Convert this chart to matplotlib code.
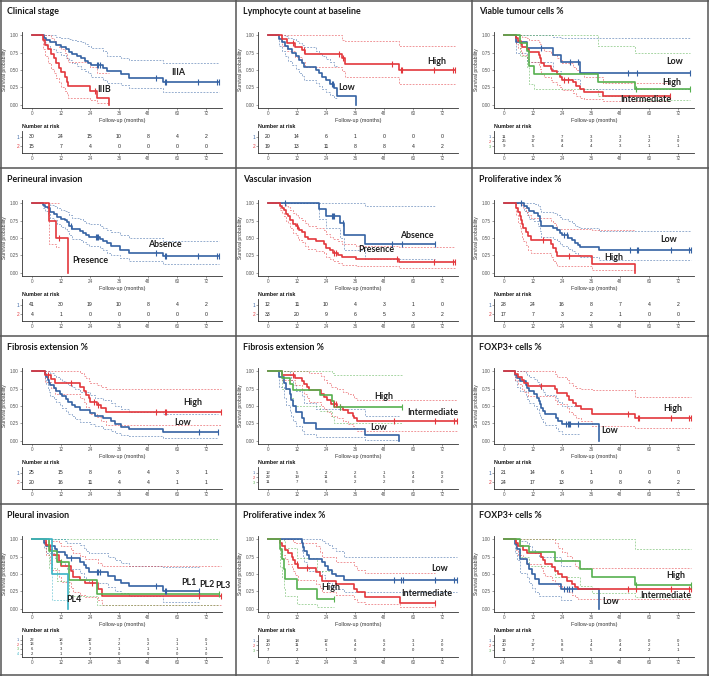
import numpy as np
import matplotlib.pyplot as plt
from matplotlib.lines import Line2D

plt.rcParams['font.family'] = ['Liberation Sans', 'DejaVu Sans']

nan = np.nan
BLUE, RED, GREEN, TEAL = '#3562a3', '#e3373c', '#56b04f', '#3bb3c6'
RISK_TIMES = [0, 12, 24, 36, 48, 60, 72]

# each step: (time, survival, lower CI, upper CI)
# --- Clinical stage
STAGE_IIIA = [(5, .967, .90, 1.0), (6, .933, .85, 1.0), (7.5, .90, .80, 1.0), (10, .867, .76, .98),
              (12, .833, .72, .97), (14, .80, .68, .96), (15.5, .767, .64, .95), (16.5, .733, .60, .94),
              (18.5, .70, .56, .92), (20.5, .667, .52, .90), (22, .633, .49, .88), (23, .60, .45, .85),
              (24.5, .567, .40, .82), (29.5, .53, .36, .78), (31, .48, .31, .70), (37, .44, .28, .67),
              (40, .38, .24, .64), (54, .33, .18, .60)]
STAGE_IIIA_CENS = [27, 27.5, 28, 51.5, 55, 55.5, 68.5, 76.5, 77.5]
STAGE_IIIA_RISK = [30, 24, 15, 10, 8, 4, 2]
STAGE_IIIB = [(4.5, .933, .80, 1.0), (5.5, .867, .70, 1.0), (6.5, .80, .60, 1.0), (8, .733, .52, .97),
              (9, .667, .45, .92), (10, .60, .38, .88), (11, .533, .32, .84), (12, .467, .26, .80),
              (13.5, .40, .20, .74), (14.5, .333, .15, .68), (15, .267, .10, .62), (24, .20, .07, .55),
              (27, .10, .02, .45), (32, 0, nan, nan)]
STAGE_IIIB_CENS = [26]
STAGE_IIIB_RISK = [15, 7, 4, 0, 0, 0, 0]

# --- Lymphocyte count at baseline
LYMPH_LOW = [(4.5, .95, .85, 1.0), (6, .90, .77, 1.0), (7, .85, .70, .99), (8.5, .80, .63, .97),
             (10, .75, .57, .95), (11.5, .70, .51, .92), (13, .65, .46, .89), (14, .60, .41, .86),
             (15, .55, .36, .83), (20, .50, .31, .78), (21, .45, .27, .74), (22.5, .40, .22, .70),
             (24, .35, .18, .66), (25.5, .30, .14, .62), (27.5, .24, .09, .56), (28.5, .12, nan, nan),
             (36.5, 0, nan, nan)]
LYMPH_LOW_CENS = [26.5, 27]
LYMPH_LOW_RISK = [20, 14, 6, 1, 0, 0, 0]
LYMPH_HIGH = [(6, .947, .85, 1.0), (8, .895, .77, 1.0), (11, .84, .69, 1.0), (14, .787, .62, 1.0),
              (15.5, .73, .55, 1.0), (30.5, .67, .48, .94), (32, .59, .40, .92), (54, .50, .30, .85)]
LYMPH_HIGH_CENS = [10.5, 15, 29.5, 31, 51.5, 55, 55.5, 68.5, 76.5, 77.5]
LYMPH_HIGH_RISK = [19, 13, 11, 8, 8, 4, 2]

# --- Viable tumour cells %
VIABLE_LOW = [(5, .909, .75, 1.0), (9.5, .818, .62, 1.0), (20.5, .716, .48, .98), (23.5, .614, .37, .97),
              (31.5, .46, .22, .97)]
VIABLE_LOW_CENS = [15.5, 27.5, 30.5, 51.5, 55, 77]
VIABLE_LOW_RISK = [11, 9, 7, 3, 3, 1, 1]
VIABLE_INT = [(5, .96, .88, 1.0), (6, .92, .82, 1.0), (7, .88, .76, 1.0), (7.5, .84, .71, .98),
              (9.5, .80, .66, .96), (10.5, .76, .61, .93), (14.5, .72, .56, .91), (15, .68, .52, .88),
              (15.5, .60, .44, .82), (16.5, .56, .40, .78), (19.5, .52, .36, .75), (20, .48, .32, .72),
              (22, .44, .28, .68), (23, .40, .25, .64), (24, .36, .21, .60), (28.5, .32, .17, .55),
              (30, .27, .13, .50), (31.5, .22, .10, .45), (33, .18, .08, .40), (41, .12, .05, .31)]
VIABLE_INT_CENS = [25, 26.5, 68.5]
VIABLE_INT_RISK = [25, 17, 8, 3, 2, 2, 0]
VIABLE_HIGH = [(6.5, .889, .70, 1.0), (9.5, .778, .55, 1.0), (10.5, .556, .30, 1.0), (12.5, .444, .22, 1.0),
               (39, .333, .12, .85), (54, .222, .06, .75)]
VIABLE_HIGH_CENS = [54.5, 77]
VIABLE_HIGH_RISK = [9, 5, 4, 4, 3, 1, 1]

# --- Perineural invasion
PERI_ABS = [(4.5, .976, .93, 1.0), (5.5, .951, .89, 1.0), (6.5, .927, .85, 1.0), (7.5, .878, .79, .98),
            (9, .854, .76, .96), (10.5, .805, .70, .93), (12, .78, .66, .91), (13.5, .756, .63, .89),
            (14.5, .732, .60, .87), (15.5, .68, .55, .83), (16.5, .63, .49, .79), (20, .605, .47, .77),
            (21, .578, .44, .75), (22.5, .55, .41, .72), (23.5, .52, .38, .70), (28, .49, .35, .67),
            (29.5, .46, .32, .64), (31, .43, .29, .62), (32.5, .39, .26, .58), (36.5, .33, .21, .54),
            (40, .28, .17, .50), (54, .24, .12, .45)]
PERI_ABS_CENS = [16, 26.5, 27, 27.5, 51.5, 55, 55.5, 68.5, 76.5, 77.5]
PERI_ABS_RISK = [41, 30, 19, 10, 8, 4, 2]
PERI_PRES = [(7, .75, .42, 1.0), (10, .50, .37, 1.0), (11, .50, nan, nan), (15, 0, nan, nan)]
PERI_PRES_CENS = [11]
PERI_PRES_RISK = [4, 1, 0, 0, 0, 0, 0]

# --- Vascular invasion
VASC_ABS = [(21, .917, .78, 1.0), (24, .825, .64, 1.0), (30, .72, .50, 1.0), (31.5, .55, .32, 1.0),
            (40, .42, .20, .96)]
VASC_ABS_CENS = [7, 26.5, 27, 27.5, 31, 51.5, 55.5, 69]
VASC_ABS_RISK = [12, 11, 10, 4, 3, 1, 0]
VASC_PRES = [(5, .97, .91, 1.0), (6, .94, .86, 1.0), (6.5, .91, .82, 1.0), (7.5, .85, .75, .97),
             (8.5, .82, .71, .95), (9, .76, .64, .91), (10.5, .70, .57, .86), (11.5, .67, .54, .84),
             (12.5, .64, .50, .81), (13, .61, .47, .79), (14, .58, .44, .76), (15.5, .52, .38, .71),
             (16.5, .48, .34, .67), (20, .45, .31, .64), (23, .41, .28, .61), (24, .36, .23, .56),
             (25.5, .32, .19, .52), (27, .29, .17, .49), (29, .26, .14, .46), (30.5, .22, .11, .42),
             (36.5, .19, .09, .39), (54, .15, .06, .37)]
VASC_PRES_CENS = [12, 27.5, 28, 53.5, 68.5, 76.5, 77.5]
VASC_PRES_RISK = [33, 20, 9, 6, 5, 3, 2]

# --- Proliferative index % (2 groups)
PROLIF2_LOW = [(8.5, .964, .89, 1.0), (9.5, .929, .84, 1.0), (10.5, .893, .78, 1.0), (12.5, .857, .74, .99),
               (14, .821, .68, .96), (15, .75, .60, .92), (15.5, .68, .52, .88), (20.5, .64, .48, .86),
               (22, .61, .45, .84), (23, .57, .41, .80), (24, .54, .38, .78), (26.5, .50, .34, .75),
               (28, .47, .31, .72), (29.5, .43, .28, .68), (30.5, .40, .25, .66), (31.5, .37, .22, .64),
               (39.5, .33, .185, .60)]
PROLIF2_LOW_CENS = [7, 25, 26, 52, 55, 55.5, 69, 76.5, 77.5]
PROLIF2_LOW_RISK = [28, 24, 16, 8, 7, 4, 2]
PROLIF2_HIGH = [(5, .941, .83, 1.0), (6, .882, .72, 1.0), (6.5, .824, .64, 1.0), (7, .765, .57, 1.0),
                (7.5, .706, .50, .98), (8, .647, .45, .93), (9, .588, .40, .88), (10, .529, .33, .84),
                (11, .47, .28, .79), (19.5, .41, .22, .75), (20.5, .353, .17, .71), (21.5, .294, .12, .68),
                (22, .235, .10, .63), (36.5, .118, .03, .61), (54, 0, nan, nan)]
PROLIF2_HIGH_CENS = [16, 27]
PROLIF2_HIGH_RISK = [17, 7, 3, 2, 1, 0, 0]

# --- Fibrosis extension % (2 groups)
FIB2_LOW = [(5.5, .96, .88, 1.0), (6, .92, .82, 1.0), (6.5, .88, .75, 1.0), (7, .84, .70, 1.0),
            (7.5, .80, .65, .98), (9, .76, .60, .95), (10, .72, .56, .92), (11.5, .68, .51, .89),
            (12.5, .64, .47, .86), (14, .60, .43, .83), (15, .56, .39, .80), (16.5, .52, .35, .77),
            (18, .48, .31, .74), (20, .44, .27, .70), (24, .40, .24, .66), (26, .36, .21, .62),
            (29.5, .32, .17, .58), (32.5, .28, .14, .54), (34.5, .24, .11, .50), (37, .20, .08, .46),
            (40, .16, .06, .42), (54, .12, .04, .38)]
FIB2_LOW_CENS = [69, 77]
FIB2_LOW_RISK = [25, 15, 8, 6, 4, 3, 1]
FIB2_HIGH = [(5.5, .95, .85, 1.0), (8, .894, .76, 1.0), (9.5, .839, .68, 1.0), (20, .78, .62, .98),
             (21.5, .72, .56, .94), (22.5, .66, .49, .90), (23.5, .61, .43, .86), (24, .56, .38, .83),
             (27, .52, .34, .80), (28.5, .47, .29, .77), (30.5, .42, .23, .75)]
FIB2_HIGH_CENS = [6.5, 16, 25.5, 27.5, 51.5, 55, 55.5, 78]
FIB2_HIGH_RISK = [20, 16, 11, 4, 4, 1, 1]

# --- Fibrosis extension % (3 groups)
FIB3_LOW = [(4.5, .917, .78, 1.0), (6.5, .833, .62, 1.0), (7.5, .75, .52, 1.0), (9, .667, .43, .95),
            (9.5, .583, .35, .88), (10.5, .50, .28, .80), (11.5, .417, .21, .72), (14, .333, .14, .64),
            (15, .25, .09, .55), (20, .167, .05, .45), (40, .083, .01, .35), (54, 0, nan, nan)]
FIB3_LOW_CENS = []
FIB3_LOW_RISK = [12, 5, 2, 2, 1, 0, 0]
FIB3_INT = [(6, .955, .87, 1.0), (11, .909, .80, 1.0), (14, .864, .73, 1.0), (15, .818, .67, 1.0),
            (16, .773, .62, 1.0), (17, .727, .56, .98), (22, .68, .50, .93), (23, .63, .46, .88),
            (24.5, .58, .41, .83), (26, .53, .36, .78), (28.5, .48, .32, .74), (31, .44, .28, .70),
            (33, .40, .24, .67), (35, .36, .21, .64), (35.5, .32, .18, .61), (37, .28, .14, .59)]
FIB3_INT_CENS = [10.5, 27.5, 28, 30, 52, 69, 77, 78]
FIB3_INT_RISK = [22, 19, 11, 6, 5, 4, 2]
FIB3_HIGH = [(6, .909, .75, 1.0), (9, .818, .62, 1.0), (10.5, .727, .50, 1.0), (21.5, .655, .43, 1.0),
             (26.5, .57, .34, .98), (27.5, .48, .26, .95)]
FIB3_HIGH_CENS = [30, 55.5]
FIB3_HIGH_RISK = [11, 7, 6, 2, 2, 0, 0]

# --- FOXP3+ cells % (2 groups)
FOX2_LOW = [(4.5, .952, .86, 1.0), (5.5, .905, .78, 1.0), (6.5, .857, .72, 1.0), (9, .81, .65, .98),
            (9.5, .762, .60, .95), (10.5, .714, .55, .92), (12.5, .667, .50, .89), (13.5, .619, .45, .85),
            (14.5, .571, .40, .82), (15, .524, .35, .78), (15.5, .476, .31, .74), (16, .429, .27, .70),
            (17, .381, .23, .66), (21.5, .333, .18, .61), (22.5, .286, .14, .56), (24, .238, .10, .50),
            (31, .238, nan, nan), (39.5, 0, nan, nan)]
FOX2_LOW_CENS = [25.5, 26.3, 27, 27.5, 30.5]
FOX2_LOW_RISK = [21, 14, 6, 1, 0, 0, 0]
FOX2_HIGH = [(4.5, .958, .88, 1.0), (6, .917, .82, 1.0), (7.5, .875, .75, 1.0), (8.5, .833, .70, 1.0),
             (10, .792, .65, 1.0), (21, .74, .59, .96), (22, .69, .53, .92), (26, .64, .47, .87),
             (27, .59, .42, .83), (28.5, .54, .37, .79), (30, .50, .33, .76), (32, .45, .28, .74),
             (36.5, .39, .21, .73), (54, .33, .18, .63)]
FOX2_HIGH_CENS = [15.5, 51.5, 55.5, 56, 69, 76.5, 77.5]
FOX2_HIGH_RISK = [24, 17, 13, 9, 8, 4, 2]

# --- Pleural invasion
PL1 = [(5, .955, .87, 1.0), (6, .909, .80, 1.0), (9.5, .864, .73, 1.0), (10.5, .818, .67, 1.0),
       (13.5, .773, .62, .98), (14.5, .727, .57, .95), (20, .68, .51, .92), (21.5, .63, .46, .88),
       (22.5, .58, .41, .84), (23.5, .53, .37, .80), (31.5, .47, .31, .75), (34.5, .41, .26, .70),
       (37, .37, .22, .66), (40, .33, .18, .62), (54, .25, .10, .60)]
PL1_CENS = [16, 27, 27.5, 28, 51.5, 55, 55.5, 69]
PL1_RISK = [22, 18, 12, 7, 5, 1, 0]
PL2 = [(6, .923, .78, 1.0), (7.5, .846, .66, 1.0), (8.5, .769, .56, .98), (11, .692, .46, .95),
       (12, .615, .38, .90), (16, .538, .30, .85), (17, .462, .24, .80), (20, .41, .20, .76),
       (22, .37, .17, .72), (27.5, .28, .12, .66), (29, .185, .05, .61)]
PL2_CENS = [25, 69, 78]
PL2_RISK = [13, 9, 5, 2, 2, 1, 1]
PL3 = [(7, .833, .58, 1.0), (10.5, .667, .40, 1.0), (15.5, .417, .18, 1.0), (27, .208, .05, 1.0)]
PL3_CENS = [12, 77.5]
PL3_RISK = [6, 3, 2, 1, 1, 1, 1]
PL4 = [(8.5, .50, .13, 1.0), (15, 0, nan, nan)]
PL4_CENS = []
PL4_RISK = [2, 1, 0, 0, 0, 0, 0]

# --- Proliferative index % (3 groups)
PROLIF3_LOW = [(14, .944, .84, 1.0), (14.5, .889, .74, 1.0), (15, .833, .67, 1.0), (16, .778, .60, 1.0),
               (17, .722, .54, 1.0), (22.5, .667, .48, .98), (23.5, .611, .42, .95), (25, .556, .37, .92),
               (26.5, .50, .31, .88), (28, .47, .28, .84), (31.5, .42, .24, .74)]
PROLIF3_LOW_CENS = [52, 55, 56, 69, 77, 78]
PROLIF3_LOW_RISK = [18, 18, 12, 6, 6, 3, 2]
PROLIF3_INT = [(5, .95, .85, 1.0), (6, .90, .78, 1.0), (7, .85, .72, 1.0), (8.5, .80, .65, 1.0),
               (10, .75, .59, 1.0), (10.5, .70, .54, .97), (11, .65, .49, .95), (12.5, .59, .42, .95),
               (20, .53, .36, .90), (21.5, .47, .30, .82), (22.5, .40, .24, .74), (28, .35, .19, .68),
               (35.5, .29, .14, .62), (37, .24, .10, .56), (40, .17, .06, .52), (54.5, .085, .02, .52)]
PROLIF3_INT_CENS = [12, 16, 69]
PROLIF3_INT_RISK = [20, 11, 6, 4, 2, 1, 0]
PROLIF3_HIGH = [(5, .857, .60, 1.0), (6, .714, .45, 1.0), (6.5, .571, .30, .98), (7, .429, .18, .88),
                (12, .286, .07, .73), (20.5, .143, .02, .55)]
PROLIF3_HIGH_CENS = [27.5]
PROLIF3_HIGH_RISK = [7, 2, 1, 0, 0, 0, 0]

# --- FOXP3+ cells % (3 groups)
FOX3_LOW = [(4.5, .929, .80, 1.0), (5.5, .857, .70, 1.0), (6.5, .714, .52, .98), (9.5, .643, .45, .95),
            (10.5, .571, .37, .90), (11.5, .50, .30, .85), (13, .429, .24, .80), (14.5, .357, .18, .74),
            (23.5, .286, .12, .62), (28, .286, nan, nan), (39.5, 0, nan, nan)]
FOX3_LOW_CENS = [25, 26, 27, 28]
FOX3_LOW_RISK = [14, 7, 5, 1, 0, 0, 0]
FOX3_INT = [(5, .95, .85, 1.0), (6, .90, .78, 1.0), (8, .85, .71, 1.0), (9.5, .80, .65, 1.0),
            (15.5, .75, .58, 1.0), (16, .70, .52, 1.0), (17, .65, .47, 1.0), (20, .60, .42, 1.0),
            (21, .55, .37, .95), (22.5, .50, .32, .88), (24, .45, .28, .82), (26, .40, .24, .76),
            (28, .35, .20, .70), (29.5, .31, .16, .62), (30.5, .28, .14, .58)]
FOX3_INT_CENS = [51.5, 54.5, 69, 76.5, 77.5]
FOX3_INT_RISK = [20, 17, 8, 4, 4, 2, 1]
FOX3_HIGH = [(6.5, .909, .75, 1.0), (10.5, .818, .62, 1.0), (21, .682, .46, 1.0), (31.5, .568, .33, 1.0),
             (36.5, .455, .23, 1.0), (54, .34, .16, .86)]
FOX3_HIGH_CENS = [54.5, 77.5]
FOX3_HIGH_RISK = [11, 7, 6, 5, 4, 2, 1]

PANELS = [
    ('Clinical stage', [(STAGE_IIIA, STAGE_IIIA_CENS, STAGE_IIIA_RISK, BLUE),
                        (STAGE_IIIB, STAGE_IIIB_CENS, STAGE_IIIB_RISK, RED)],
     [('IIIA', 60.7, .46), ('IIIB', 30, .22)]),
    ('Lymphocyte count at baseline', [(LYMPH_LOW, LYMPH_LOW_CENS, LYMPH_LOW_RISK, BLUE),
                                      (LYMPH_HIGH, LYMPH_HIGH_CENS, LYMPH_HIGH_RISK, RED)],
     [('High', 70, .63), ('Low', 32.5, .25)]),
    ('Viable tumour cells %', [(VIABLE_LOW, VIABLE_LOW_CENS, VIABLE_LOW_RISK, BLUE),
                               (VIABLE_INT, VIABLE_INT_CENS, VIABLE_INT_RISK, RED),
                               (VIABLE_HIGH, VIABLE_HIGH_CENS, VIABLE_HIGH_RISK, GREEN)],
     [('Low', 70.4, .63), ('High', 69.4, .32), ('Intermediate', 58.8, .08)]),
    ('Perineural invasion', [(PERI_ABS, PERI_ABS_CENS, PERI_ABS_RISK, BLUE),
                             (PERI_PRES, PERI_PRES_CENS, PERI_PRES_RISK, RED)],
     [('Absence', 55, .41), ('Presence', 24.2, .18)]),
    ('Vascular invasion', [(VASC_ABS, VASC_ABS_CENS, VASC_ABS_RISK, BLUE),
                           (VASC_PRES, VASC_PRES_CENS, VASC_PRES_RISK, RED)],
     [('Absence', 61.4, .54), ('Presence', 44.8, .33)]),
    ('Proliferative index %', [(PROLIF2_LOW, PROLIF2_LOW_CENS, PROLIF2_LOW_RISK, BLUE),
                               (PROLIF2_HIGH, PROLIF2_HIGH_CENS, PROLIF2_HIGH_RISK, RED)],
     [('Low', 68, .48), ('High', 45.5, .22)]),
    ('Fibrosis extension %', [(FIB2_LOW, FIB2_LOW_CENS, FIB2_LOW_RISK, BLUE),
                              (FIB2_HIGH, FIB2_HIGH_CENS, FIB2_HIGH_RISK, RED)],
     [('High', 66.3, .55), ('Low', 62.5, .26)]),
    ('Fibrosis extension %', [(FIB3_LOW, FIB3_LOW_CENS, FIB3_LOW_RISK, BLUE),
                              (FIB3_INT, FIB3_INT_CENS, FIB3_INT_RISK, RED),
                              (FIB3_HIGH, FIB3_HIGH_CENS, FIB3_HIGH_RISK, GREEN)],
     [('High', 47.9, .64), ('Intermediate', 68.3, .41), ('Low', 45.8, .19)]),
    ('FOXP3+ cells %', [(FOX2_LOW, FOX2_LOW_CENS, FOX2_LOW_RISK, BLUE),
                        (FOX2_HIGH, FOX2_HIGH_CENS, FOX2_HIGH_RISK, RED)],
     [('High', 69.7, .47), ('Low', 43.7, .14)]),
    ('Pleural invasion', [(PL1, PL1_CENS, PL1_RISK, BLUE), (PL2, PL2_CENS, PL2_RISK, RED),
                          (PL3, PL3_CENS, PL3_RISK, GREEN), (PL4, PL4_CENS, PL4_RISK, TEAL)],
     [('PL1', 64.8, .37), ('PL2', 72.4, .35), ('PL3', 79.0, .34), ('PL4', 17.2, .13)]),
    ('Proliferative index %', [(PROLIF3_LOW, PROLIF3_LOW_CENS, PROLIF3_LOW_RISK, BLUE),
                               (PROLIF3_INT, PROLIF3_INT_CENS, PROLIF3_INT_RISK, RED),
                               (PROLIF3_HIGH, PROLIF3_HIGH_CENS, PROLIF3_HIGH_RISK, GREEN)],
     [('Low', 70.9, .58), ('High', 25.9, .30), ('Intermediate', 65.8, .22)]),
    ('FOXP3+ cells %', [(FOX3_LOW, FOX3_LOW_CENS, FOX3_LOW_RISK, BLUE),
                        (FOX3_INT, FOX3_INT_CENS, FOX3_INT_RISK, RED),
                        (FOX3_HIGH, FOX3_HIGH_CENS, FOX3_HIGH_RISK, GREEN)],
     [('High', 71.2, .48), ('Intermediate', 66.8, .19), ('Low', 44.2, .10)]),
]

W, H = 709, 676
COL_X = [0, 236, 472, 709]
ROW_Y = [0, 168, 336, 504, 676]
ROW_POS = {2: [137, 146], 3: [136.8, 141.4, 146], 4: [135.8, 140.4, 145, 149.6]}
RISK_FS = {2: 3.7, 3: 3.1, 4: 3.0}
XLIM = (-4.1, 78.6)

fig = plt.figure(figsize=(W / 100, H / 100), dpi=100)


def frac(x, y, w, h):
    return [x / W, 1 - (y + h) / H, w / W, h / H]


def style_axis(ax):
    for side in ('top', 'right'):
        ax.spines[side].set_visible(False)
    for side in ('left', 'bottom'):
        ax.spines[side].set_color('#333333')
        ax.spines[side].set_linewidth(0.6)
    ax.tick_params(length=1.5, width=0.4, colors='#555555', labelsize=3.3, pad=1)
    ax.set_facecolor('none')


def draw_curve(ax, steps, cens, color):
    t = np.array([0.0] + [st[0] for st in steps])
    s = np.array([1.0] + [st[1] for st in steps])
    lo = np.array([1.0] + [st[2] for st in steps])
    hi = np.array([1.0] + [st[3] for st in steps])
    end = max([t[-1]] + list(cens))
    if s[-1] > 0:
        t = np.append(t, end)
        s = np.append(s, s[-1])
        lo = np.append(lo, lo[-1])
        hi = np.append(hi, hi[-1])
    for band in (lo, hi):
        ax.step(t, band, where='post', color=color, lw=0.6, alpha=0.6,
                ls=(0, (2.2, 1.6)), zorder=2)
    ax.step(t, s, where='post', color=color, lw=1.2, zorder=3)
    if cens:
        idx = np.searchsorted(t, cens, side='right') - 1
        ax.plot(cens, s[idx], ls='none', marker='|', ms=4.5, mew=0.8, color=color, zorder=4)


for i, (title, curves, labels) in enumerate(PANELS):
    r, c = divmod(i, 3)
    cx, cy = COL_X[c], ROW_Y[r]

    fig.text((cx + 7) / W, 1 - (cy + 12) / H, title, fontsize=6.4, fontweight='bold',
             family=['Lato', 'DejaVu Sans'], color='#1a1a1a', va='center', ha='left')

    ax = fig.add_axes(frac(cx + 22, cy + 32, 200, 76))
    style_axis(ax)
    for steps, cens, risk, color in curves:
        draw_curve(ax, steps, cens, color)
    for text, lx, ly in labels:
        ax.text(lx, ly, text, fontsize=6.4, fontweight='bold', family=['Lato', 'DejaVu Sans'],
                color='#1f1f1f', ha='center', va='center', clip_on=False, zorder=5)
    ax.set_xlim(*XLIM)
    ax.set_ylim(-0.05, 1.05)
    ax.set_xticks(RISK_TIMES)
    ax.set_yticks([0, .25, .5, .75, 1.0])
    ax.set_yticklabels(['0.00', '0.25', '0.50', '0.75', '1.00'])
    ax.set_xlabel('Follow-up (months)', fontsize=3.9, color='#333333', labelpad=0.8)
    ax.set_ylabel('Survival probability', fontsize=3.6, color='#333333', labelpad=1.5)

    ng = len(curves)
    rows = ROW_POS[ng]
    axr = fig.add_axes(frac(cx + 22, cy + 131, 200, 22))
    style_axis(axr)
    axr.set_xlim(*XLIM)
    axr.set_ylim(153, 131)
    for (steps, cens, risk, color), ry in zip(curves, rows):
        for tt, n in zip(RISK_TIMES, risk):
            axr.text(tt, ry, str(n), fontsize=RISK_FS[ng], color='#222222', ha='center', va='center')
    axr.set_xticks(RISK_TIMES)
    axr.set_yticks(rows)
    axr.set_yticklabels([str(k + 1) for k in range(ng)])
    axr.tick_params(axis='y', labelsize=RISK_FS[ng] - 0.3, length=1.2)
    for lab, (_, _, _, color) in zip(axr.get_yticklabels(), curves):
        lab.set_color(color)
    fig.text((cx + 22) / W, 1 - (cy + 127) / H, 'Number at risk', fontsize=3.8,
             fontweight='bold', color='#111111', va='center', ha='left')

# panel borders
for x in [0.6, 236, 472, 708.4]:
    fig.add_artist(Line2D([x / W, x / W], [0, 1], color='#555555', lw=1.1))
for y in [0.6, 168, 336, 504, 675.4]:
    fig.add_artist(Line2D([0, 1], [1 - y / H, 1 - y / H], color='#555555', lw=1.1))

fig.savefig('out.png', dpi=100, facecolor='white')
